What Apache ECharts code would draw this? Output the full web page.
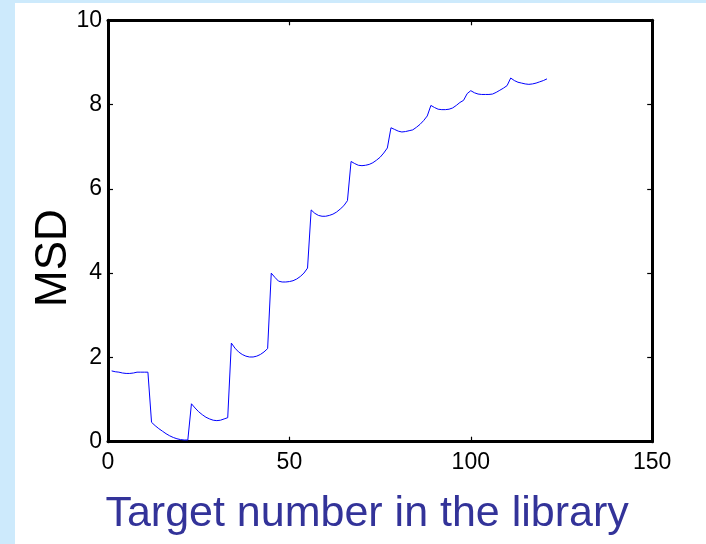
<!DOCTYPE html>
<html>
<head>
<meta charset="utf-8">
<script src="https://cdn.jsdelivr.net/npm/echarts@6/dist/echarts.min.js"></script>
<style>
  html, body { margin: 0; padding: 0; width: 706px; height: 544px; background: #cdeafc; overflow: hidden; }
  #chart { position: absolute; left: 15px; top: 3px; width: 691px; height: 541px; background: #ffffff; }
</style>
</head>
<body>
<div id="chart"></div>
<script>
// Mean square deviation for each target in the library (targets 1..121)
const msd = [
  1.68, 1.66, 1.65, 1.63, 1.62, 1.62, 1.63, 1.65, 1.65, 1.65, 1.65,
  0.46, 0.38, 0.31, 0.25, 0.19, 0.14, 0.10, 0.07, 0.05, 0.04, 0.04,
  0.90, 0.80, 0.71, 0.64, 0.58, 0.54, 0.51, 0.50, 0.51, 0.54, 0.57,
  2.34, 2.22, 2.13, 2.07, 2.03, 2.01, 2.01, 2.03, 2.07, 2.13, 2.21,
  4.00, 3.90, 3.81, 3.79, 3.79, 3.80, 3.82, 3.86, 3.92, 4.00, 4.12,
  5.50, 5.42, 5.37, 5.35, 5.35, 5.37, 5.40, 5.45, 5.52, 5.60, 5.72,
  6.65, 6.60, 6.56, 6.55, 6.56, 6.58, 6.62, 6.68, 6.75, 6.85, 6.97,
  7.45, 7.41, 7.37, 7.35, 7.36, 7.38, 7.40, 7.46, 7.53, 7.62, 7.73,
  7.98, 7.93, 7.89, 7.88, 7.88, 7.89, 7.92, 7.98, 8.05, 8.10, 8.26,
  8.33, 8.28, 8.25, 8.24, 8.24, 8.24, 8.25, 8.29, 8.34, 8.39, 8.45,
  8.63, 8.57, 8.53, 8.51, 8.49, 8.48, 8.49, 8.51, 8.54, 8.57, 8.61
];
const xRange = [0, 150];
const xStep = 50;
const yRange = [0, 10];
const yStep = 2;
const xTitle = 'Target number in the library';
const yTitle = 'MSD';

const points = msd.map((v, i) => [i + 1, v]);

const FONT = 'Liberation Sans, Arial, sans-serif';
const frameLine = { show: true, onZero: false, lineStyle: { color: '#000', width: 3 } };
const innerTick = { show: true, inside: true, length: 5, lineStyle: { color: '#000', width: 1.2 } };
const tickLabel = { color: '#000', fontSize: 23, fontFamily: FONT };

const chart = echarts.init(document.getElementById('chart'), null, { renderer: 'canvas' });
chart.setOption({
  animation: false,
  backgroundColor: '#ffffff',
  grid: { left: 93, top: 17.3, width: 544.2, height: 421.4, containLabel: false },
  xAxis: [
    {
      type: 'value', position: 'bottom', min: xRange[0], max: xRange[1], interval: xStep,
      axisLine: frameLine, axisTick: innerTick, splitLine: { show: false },
      axisLabel: Object.assign({ margin: 9 }, tickLabel),
      name: xTitle, nameLocation: 'middle', nameGap: 51, nameMoveOverlap: false,
      nameTextStyle: { color: '#333399', fontSize: 43, fontFamily: FONT, padding: [0, 26, 0, 0] }
    },
    {
      type: 'value', position: 'top', min: xRange[0], max: xRange[1], interval: xStep,
      axisLine: frameLine, axisTick: innerTick, splitLine: { show: false },
      axisLabel: { show: false }
    }
  ],
  yAxis: [
    {
      type: 'value', position: 'left', min: yRange[0], max: yRange[1], interval: yStep,
      axisLine: frameLine, axisTick: innerTick, splitLine: { show: false },
      axisLabel: Object.assign({ margin: 6 }, tickLabel),
      name: yTitle, nameLocation: 'middle', nameGap: 32, nameMoveOverlap: false,
      nameTextStyle: { color: '#000', fontSize: 44, fontFamily: FONT, padding: [0, 54, 0, 0] }
    },
    {
      type: 'value', position: 'right', min: yRange[0], max: yRange[1], interval: yStep,
      axisLine: frameLine, axisTick: innerTick, splitLine: { show: false },
      axisLabel: { show: false }
    }
  ],
  series: [
    {
      type: 'line',
      data: points,
      showSymbol: false,
      lineStyle: { color: '#0000ff', width: 1 },
      z: 1
    }
  ]
});
</script>
</body>
</html>
